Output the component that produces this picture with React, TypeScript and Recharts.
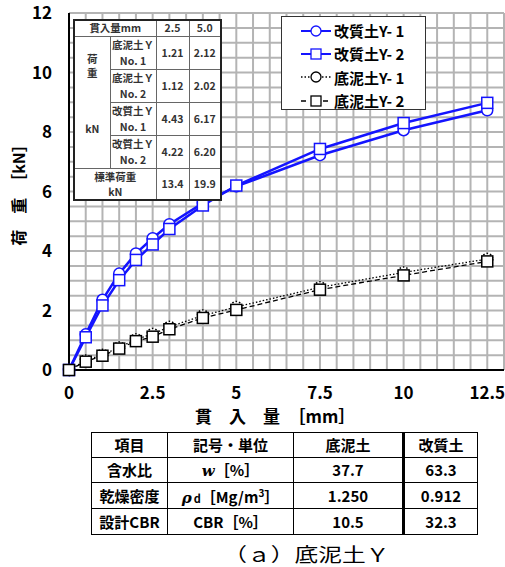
import { LineChart, Line, XAxis, YAxis, CartesianGrid, Legend } from "recharts";

// penetration [mm] and load [kN]
const penetration = [0, 0.5, 1, 1.5, 2, 2.5, 3, 4, 5, 7.5, 10, 12.5];
const improvedY1 = [0, 1.2, 2.36, 3.24, 3.92, 4.43, 4.9, 5.61, 6.17, 7.22, 8.06, 8.73];
const improvedY2 = [0, 1.1, 2.17, 3.02, 3.7, 4.22, 4.74, 5.53, 6.2, 7.43, 8.3, 8.98];
const sludgeY1 = [0, 0.32, 0.51, 0.76, 1.03, 1.21, 1.45, 1.83, 2.12, 2.78, 3.28, 3.73];
const sludgeY2 = [0, 0.28, 0.48, 0.72, 0.97, 1.12, 1.37, 1.75, 2.02, 2.7, 3.18, 3.65];

const xLabelTicks = [0, 2.5, 5, 7.5, 10, 12.5];
const yLabelTicks = [0, 2, 4, 6, 8, 10, 12];
// minor grid every 0.5
const xGridTicks = Array.from({ length: 27 }, (_, i) => i * 0.5);
const yGridTicks = Array.from({ length: 25 }, (_, i) => i * 0.5);

const seriesNames = ["改質土Y- 1", "改質土Y- 2", "底泥土Y- 1", "底泥土Y- 2"];

// inset table (load at 2.5 / 5.0 mm)
const insetHead = ["貫入量mm", "2.5", "5.0"];
const insetSoils = ["底泥土Ｙ", "底泥土Ｙ", "改質土Ｙ", "改質土Ｙ"];
const insetNos = ["No. 1", "No. 2", "No. 1", "No. 2"];
const insetAt25 = ["1.21", "1.12", "4.43", "4.22"];
const insetAt50 = ["2.12", "2.02", "6.17", "6.20"];
const standardLoad = ["13.4", "19.9"];

// soil property table
const propHead = ["項目", "記号・単位", "底泥土", "改質土"];
const propItems = ["含水比", "乾燥密度", "設計CBR"];
const propSludge = ["37.7", "1.250", "10.5"];
const propImproved = ["63.3", "0.912", "32.3"];

const BLUE = "#1414ff";
const GRID = "#b4b4b4";
const FONT = '"Noto Sans CJK JP", "Noto Sans", sans-serif';

const data = penetration.map((x, i) => ({
  x,
  improvedY1: improvedY1[i],
  improvedY2: improvedY2[i],
  sludgeY1: sludgeY1[i],
  sludgeY2: sludgeY2[i],
}));

const circleDot = (color: string) => ({ r: 5.5, fill: "#fff", stroke: color, strokeWidth: 1.5 });

const squareDot = (color: string) => (props: any) => {
  const { cx, cy, index } = props;
  if (cx == null || cy == null) return <g key={`s-${color}-${index}`} />;
  return (
    <rect
      key={`s-${color}-${index}`}
      x={cx - 5.5}
      y={cy - 5.5}
      width={11}
      height={11}
      fill="#fff"
      stroke={color}
      strokeWidth={1.5}
    />
  );
};

function LegendIcon({ idx }: { idx: number }) {
  const color = idx < 2 ? BLUE : "#000";
  const dash = idx === 2 ? "1.5 2" : idx === 3 ? "5 6" : undefined;
  const sw = idx < 2 ? 2 : 1.3;
  return (
    <svg width={32} height={14} style={{ display: "block" }}>
      <line x1={1} y1={7} x2={31} y2={7} stroke={color} strokeWidth={sw} strokeDasharray={dash} />
      {idx % 2 === 0 ? (
        <circle cx={16} cy={7} r={5} fill="#fff" stroke={color} strokeWidth={1.3} />
      ) : (
        <rect x={11} y={2} width={10} height={10} fill="#fff" stroke={color} strokeWidth={1.3} />
      )}
    </svg>
  );
}

function LegendBox() {
  return (
    <div
      style={{
        width: 145,
        height: 94,
        boxSizing: "border-box",
        border: "1.5px solid #333",
        background: "#fff",
        paddingTop: 2,
        fontFamily: FONT,
      }}
    >
      {seriesNames.map((name, i) => (
        <div key={name} style={{ display: "flex", alignItems: "center", height: 23.3, paddingLeft: 18 }}>
          <LegendIcon idx={i} />
          <span style={{ fontSize: 15, fontWeight: 700, color: "#000", marginLeft: 2, whiteSpace: "pre" }}>
            {name}
          </span>
        </div>
      ))}
    </div>
  );
}

const insetCell: React.CSSProperties = {
  border: "1.5px solid #666",
  padding: 0,
  textAlign: "center",
  verticalAlign: "middle",
};

function InsetTable() {
  return (
    <table
      style={{
        position: "absolute",
        left: 73,
        top: 19,
        width: 147,
        height: 171,
        borderCollapse: "collapse",
        tableLayout: "fixed",
        background: "#fff",
        border: "2px solid #222",
        fontFamily: FONT,
        fontSize: 10.5,
        fontWeight: 700,
        color: "#333",
        lineHeight: "16px",
      }}
    >
      <colgroup>
        <col style={{ width: 36 }} />
        <col style={{ width: 46 }} />
        <col style={{ width: 33 }} />
        <col style={{ width: 32 }} />
      </colgroup>
      <tbody>
        <tr style={{ height: 16 }}>
          <td colSpan={2} style={{ ...insetCell, lineHeight: "14px" }}>{insetHead[0]}</td>
          <td style={{ ...insetCell, lineHeight: "14px" }}>{insetHead[1]}</td>
          <td style={{ ...insetCell, lineHeight: "14px" }}>{insetHead[2]}</td>
        </tr>
        {insetSoils.map((soil, i) => (
          <tr key={i} style={{ height: 31 }}>
            {i === 0 && (
              <td
                rowSpan={4}
                style={{ ...insetCell, verticalAlign: "top", paddingTop: 15, lineHeight: "14px", whiteSpace: "pre-line" }}
              >
                {"荷\n重\n\n\n\nkN"}
              </td>
            )}
            <td style={insetCell}>
              {soil}
              <br />
              {insetNos[i]}
            </td>
            <td style={insetCell}>{insetAt25[i]}</td>
            <td style={insetCell}>{insetAt50[i]}</td>
          </tr>
        ))}
        <tr style={{ height: 31 }}>
          <td colSpan={2} style={{ ...insetCell, lineHeight: "15px" }}>
            標準荷重
            <br />
            kN
          </td>
          <td style={insetCell}>{standardLoad[0]}</td>
          <td style={insetCell}>{standardLoad[1]}</td>
        </tr>
      </tbody>
    </table>
  );
}

const propCell: React.CSSProperties = {
  border: "1.5px solid #000",
  padding: 0,
  textAlign: "center",
  verticalAlign: "middle",
};

function unitCell(i: number) {
  if (i === 0)
    return (
      <>
        <i style={{ fontFamily: '"DejaVu Serif", serif' }}>w</i>［%］
      </>
    );
  if (i === 1)
    return (
      <>
        <i style={{ fontFamily: '"DejaVu Serif", serif' }}>ρ</i>
        <span style={{ fontSize: 11, marginLeft: 2 }}>d</span>［Mg/m<sup style={{ fontSize: 10 }}>3</sup>］
      </>
    );
  return <>CBR［%］</>;
}

function PropTable() {
  return (
    <table
      style={{
        position: "absolute",
        left: 91,
        top: 432,
        width: 386,
        height: 101,
        borderCollapse: "collapse",
        tableLayout: "fixed",
        fontFamily: FONT,
        fontSize: 15,
        fontWeight: 700,
        color: "#000",
        lineHeight: "20px",
      }}
    >
      <colgroup>
        <col style={{ width: 76 }} />
        <col style={{ width: 126 }} />
        <col style={{ width: 110 }} />
        <col style={{ width: 74 }} />
      </colgroup>
      <tbody>
        <tr style={{ height: 25 }}>
          {propHead.map((h, j) => (
            <td key={h} style={j === 3 ? { ...propCell, borderLeft: "3px solid #000" } : propCell}>
              {h}
            </td>
          ))}
        </tr>
        {propItems.map((item, i) => (
          <tr key={item} style={{ height: i === 2 ? 26 : 25 }}>
            <td style={propCell}>{item}</td>
            <td style={propCell}>{unitCell(i)}</td>
            <td style={propCell}>{propSludge[i]}</td>
            <td style={{ ...propCell, borderLeft: "3px solid #000" }}>{propImproved[i]}</td>
          </tr>
        ))}
      </tbody>
    </table>
  );
}

export default function App() {
  const tickStyle = { fill: "#000", fontSize: 17, fontWeight: 700, fontFamily: FONT };
  return (
    <div
      style={{
        position: "absolute",
        left: 0,
        top: 0,
        width: 505,
        height: 567,
        background: "#fff",
        fontFamily: FONT,
        overflow: "hidden",
      }}
    >
      <LineChart width={505} height={430} data={data} margin={{ top: 13, right: 1, left: 10, bottom: 0 }}>
        <CartesianGrid stroke={GRID} strokeWidth={2} />
        <XAxis
          dataKey="x"
          type="number"
          domain={[0, 13]}
          ticks={xGridTicks}
          interval={0}
          height={60}
          tickLine={false}
          tickMargin={11}
          axisLine={{ stroke: "#000", strokeWidth: 2 }}
          tick={tickStyle}
          tickFormatter={(v: number) => (xLabelTicks.includes(v) ? String(v) : "")}
        />
        <YAxis
          type="number"
          domain={[0, 12]}
          ticks={yGridTicks}
          interval={0}
          width={59}
          tickLine={false}
          tickMargin={11}
          axisLine={{ stroke: "#000", strokeWidth: 2 }}
          tick={tickStyle}
          tickFormatter={(v: number) => (yLabelTicks.includes(v) ? String(v) : "")}
        />
        <Legend
          layout="vertical"
          align="center"
          verticalAlign="middle"
          content={() => <LegendBox />}
          wrapperStyle={{ position: "absolute", left: 281, top: 16, width: 145, height: 94 }}
        />
        <Line
          dataKey="improvedY1"
          name={seriesNames[0]}
          stroke={BLUE}
          strokeWidth={2.5}
          dot={circleDot(BLUE)}
          isAnimationActive={false}
        />
        <Line
          dataKey="improvedY2"
          name={seriesNames[1]}
          stroke={BLUE}
          strokeWidth={2.5}
          dot={squareDot(BLUE)}
          isAnimationActive={false}
        />
        <Line
          dataKey="sludgeY1"
          name={seriesNames[2]}
          stroke="#000"
          strokeWidth={1.3}
          strokeDasharray="1.5 2"
          dot={circleDot("#000")}
          isAnimationActive={false}
        />
        <Line
          dataKey="sludgeY2"
          name={seriesNames[3]}
          stroke="#000"
          strokeWidth={1.3}
          strokeDasharray="5 3"
          dot={squareDot("#000")}
          isAnimationActive={false}
        />
      </LineChart>

      <InsetTable />

      {/* axis titles */}
      <div
        style={{
          position: "absolute",
          left: 18 - 70,
          top: 191 - 10,
          width: 140,
          height: 20,
          lineHeight: "20px",
          textAlign: "center",
          transform: "rotate(-90deg)",
          fontSize: 16,
          fontWeight: 700,
          whiteSpace: "pre",
        }}
      >
        荷　重　［kN］
      </div>
      <div
        style={{
          position: "absolute",
          left: 195,
          top: 406,
          height: 20,
          lineHeight: "20px",
          fontSize: 17,
          fontWeight: 700,
          whiteSpace: "pre",
        }}
      >
        貫　入　量　［mm］
      </div>

      <PropTable />

      <div
        style={{
          position: "absolute",
          left: 0,
          width: 505,
          top: 542,
          height: 24,
          lineHeight: "24px",
          textAlign: "center",
        }}
      >
        <span
          style={{
            display: "inline-block",
            fontSize: 19,
            transform: "scaleX(1.25)",
            marginLeft: 108,
            whiteSpace: "pre",
          }}
        >
          （ａ）底泥土Ｙ
        </span>
      </div>
    </div>
  );
}
